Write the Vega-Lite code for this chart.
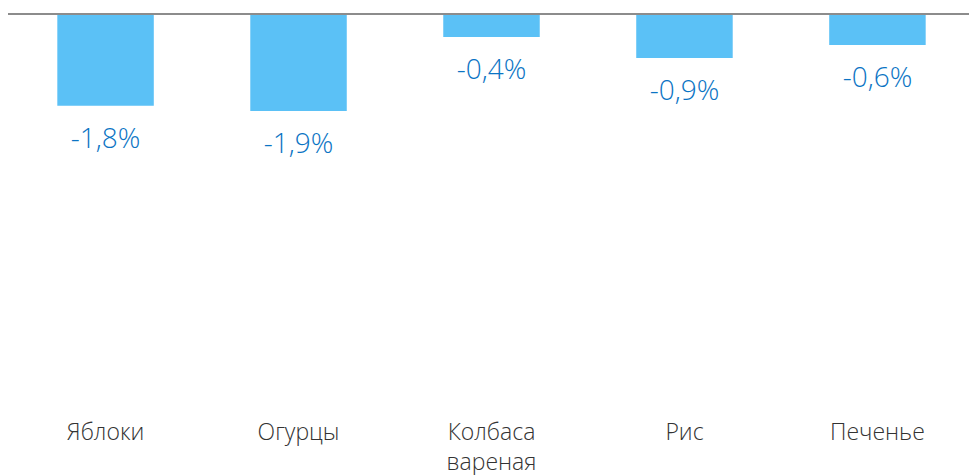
{
  "$schema": "https://vega.github.io/schema/vega-lite/v6.json",
  "width": 961,
  "height": 400,
  "autosize": "none",
  "padding": {"left": 11, "top": 14, "right": 0, "bottom": 61},
  "background": "white",
  "config": {"view": {"stroke": null}},
  "data": {
    "values": [
      {"item": "Яблоки", "value": -1.8, "label": "-1,8%"},
      {"item": "Огурцы", "value": -1.9, "label": "-1,9%"},
      {"item": "Колбаса вареная", "value": -0.45, "label": "-0,4%"},
      {"item": "Рис", "value": -0.86, "label": "-0,9%"},
      {"item": "Печенье", "value": -0.61, "label": "-0,6%"}
    ]
  },
  "encoding": {
    "x": {
      "field": "item",
      "type": "nominal",
      "sort": null,
      "scale": {"paddingInner": 0.5, "paddingOuter": 0.24},
      "axis": {
        "title": null,
        "domain": false,
        "ticks": false,
        "labelAngle": 0,
        "labelFont": "Open Sans",
        "labelFontSize": 23,
        "labelFontWeight": 300,
        "labelColor": "#333333",
        "labelPadding": 7,
        "labelBaseline": "top",
        "labelLineHeight": 30,
        "labelExpr": "split(datum.label, ' ')"
      }
    }
  },
  "layer": [
    {
      "mark": {"type": "bar", "color": "#5bc1f6"},
      "encoding": {
        "y": {
          "field": "value",
          "type": "quantitative",
          "scale": {"domain": [-7.84, 0], "nice": false},
          "axis": null
        }
      }
    },
    {
      "mark": {"type": "rule", "color": "#8c8c8c", "strokeWidth": 2},
      "encoding": {"y": {"datum": 0, "type": "quantitative"}, "x": {"value": -3}, "x2": {"value": 958}}
    },
    {
      "mark": {"type": "text", "font": "Open Sans", "fontSize": 28, "fontWeight": 300, "color": "#0b74c4", "baseline": "middle", "dy": 34},
      "encoding": {
        "y": {"field": "value", "type": "quantitative"},
        "text": {"field": "label"}
      }
    }
  ]
}
